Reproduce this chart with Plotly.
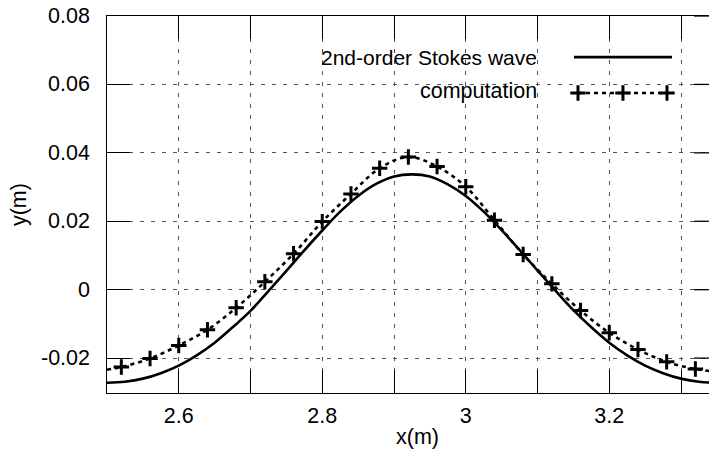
import plotly.graph_objects as go

# ---- data ----
stokes_x = [2.500, 2.525, 2.550, 2.575, 2.600, 2.625, 2.650, 2.675, 2.700, 2.725,
            2.750, 2.775, 2.800, 2.825, 2.850, 2.875, 2.900, 2.925, 2.950, 2.975,
            3.000, 3.025, 3.050, 3.075, 3.100, 3.125, 3.150, 3.175, 3.200, 3.225,
            3.250, 3.275, 3.300, 3.325, 3.350]
stokes_y = [-0.0272, -0.0269, -0.0260, -0.0244, -0.0222, -0.0192, -0.0155, -0.0110, -0.0062, -0.0004,
            0.0055, 0.0115, 0.0173, 0.0228, 0.0274, 0.0309, 0.0331, 0.0337, 0.0331, 0.0308,
            0.0274, 0.0228, 0.0174, 0.0116, 0.0056, -0.0003, -0.0060, -0.0110, -0.0155, -0.0192,
            -0.0222, -0.0244, -0.0260, -0.0269, -0.0272]

comp_x = [2.50, 2.52, 2.56, 2.60, 2.64, 2.68, 2.72, 2.76, 2.80, 2.84, 2.88, 2.92,
          2.96, 3.00, 3.04, 3.08, 3.12, 3.16, 3.20, 3.24, 3.28, 3.32, 3.34]
comp_y = [-0.0234, -0.0226, -0.0201, -0.0163, -0.0117, -0.0053, 0.0023, 0.0105, 0.0199, 0.0280,
          0.0355, 0.0388, 0.0360, 0.0301, 0.0203, 0.0103, 0.0017, -0.0061, -0.0126, -0.0175,
          -0.0211, -0.0232, -0.0238]

x_tickvals = [2.5, 2.6, 2.7, 2.8, 2.9, 3.0, 3.1, 3.2, 3.3]
x_ticktext = ["", "2.6", "", "2.8", "", "3", "", "3.2", ""]
y_tickvals = [-0.02, 0.0, 0.02, 0.04, 0.06, 0.08]
y_ticktext = ["-0.02", "0", "0.02", "0.04", "0.06", "0.08"]

series_names = ["2nd-order Stokes wave", "computation"]

FONT = "Liberation Sans, Arial, Helvetica, sans-serif"
FS = 21.5

MARKER = dict(symbol="cross-thin-open", size=11, color="black",
              line=dict(color="black", width=3))

fig = go.Figure()

fig.add_trace(go.Scatter(x=stokes_x, y=stokes_y, mode="lines",
                         line=dict(color="black", width=2.6, shape="spline"),
                         showlegend=False))
fig.add_trace(go.Scatter(x=comp_x, y=comp_y, mode="lines",
                         line=dict(color="black", width=2.6, dash="4px,4px", shape="spline"),
                         showlegend=False))
fig.add_trace(go.Scatter(x=comp_x[1:-1], y=comp_y[1:-1], mode="markers",
                         marker=MARKER, showlegend=False))

# ---- manual legend (text right-aligned, sample on the right) ----
leg_x_line = [0.7757, 0.9385]
leg_y1 = 0.891
leg_x_mk = [0.7824, 0.8571, 0.9302]
leg_y2 = 0.7958
fig.add_trace(go.Scatter(x=leg_x_line, y=[leg_y1, leg_y1], mode="lines",
                         line=dict(color="black", width=2.6),
                         xaxis="x2", yaxis="y2", showlegend=False, cliponaxis=False))
fig.add_trace(go.Scatter(x=leg_x_mk, y=[leg_y2] * 3, mode="lines+markers",
                         line=dict(color="black", width=2.6, dash="4px,4px"),
                         marker=MARKER,
                         xaxis="x2", yaxis="y2", showlegend=False, cliponaxis=False))

annotations = [
    dict(text=series_names[0], x=0.7176, y=leg_y1, xref="paper", yref="paper",
         xanchor="right", yanchor="middle", showarrow=False, font=dict(size=21)),
    dict(text=series_names[1], x=0.7176, y=0.801, xref="paper", yref="paper",
         xanchor="right", yanchor="middle", showarrow=False),
    dict(text="x(m)", x=0.515, y=-0.118, xref="paper", yref="paper",
         xanchor="center", yanchor="middle", showarrow=False),
    dict(text="y(m)", x=-0.146, y=0.4987, xref="paper", yref="paper",
         xanchor="center", yanchor="middle", showarrow=False, textangle=-90),
]
# y tick labels, right-aligned ~15 px left of the axis
for v, t in zip(y_tickvals, y_ticktext):
    annotations.append(dict(text=t, x=-0.0249, y=v, xref="paper", yref="y",
                            xanchor="right", yanchor="middle", showarrow=False))

# right-side inward ticks (the right border itself lies just outside the picture)
shapes = []
for v in y_tickvals:
    shapes.append(dict(type="line", xref="x", yref="y", x0=3.318, x1=3.36, y0=v, y1=v,
                       line=dict(color="black", width=1.3)))

grid_common = dict(showgrid=True, gridcolor="#555555", gridwidth=1, griddash="4px,7px",
                   zeroline=False, ticks="inside", ticklen=23, tickwidth=1.3,
                   tickcolor="black", showline=True, linecolor="black", linewidth=1.3,
                   tickfont=dict(family=FONT, size=FS, color="black"))

fig.update_layout(
    width=709, height=450,
    margin=dict(l=107, r=0, t=16, b=57),
    paper_bgcolor="white", plot_bgcolor="white",
    font=dict(family=FONT, size=FS, color="black"),
    xaxis=dict(range=[2.5, 3.339], tickmode="array", tickvals=x_tickvals,
               ticktext=x_ticktext, mirror="ticks", ticklabelstandoff=3, **grid_common),
    yaxis=dict(range=[-0.0302, 0.08], tickmode="array", tickvals=y_tickvals,
               showticklabels=False, mirror=False, **grid_common),
    xaxis2=dict(overlaying="x", range=[0, 1], visible=False),
    yaxis2=dict(overlaying="y", range=[0, 1], visible=False),
    annotations=annotations,
    shapes=shapes,
    showlegend=False,
)

fig.write_html("out.html")
